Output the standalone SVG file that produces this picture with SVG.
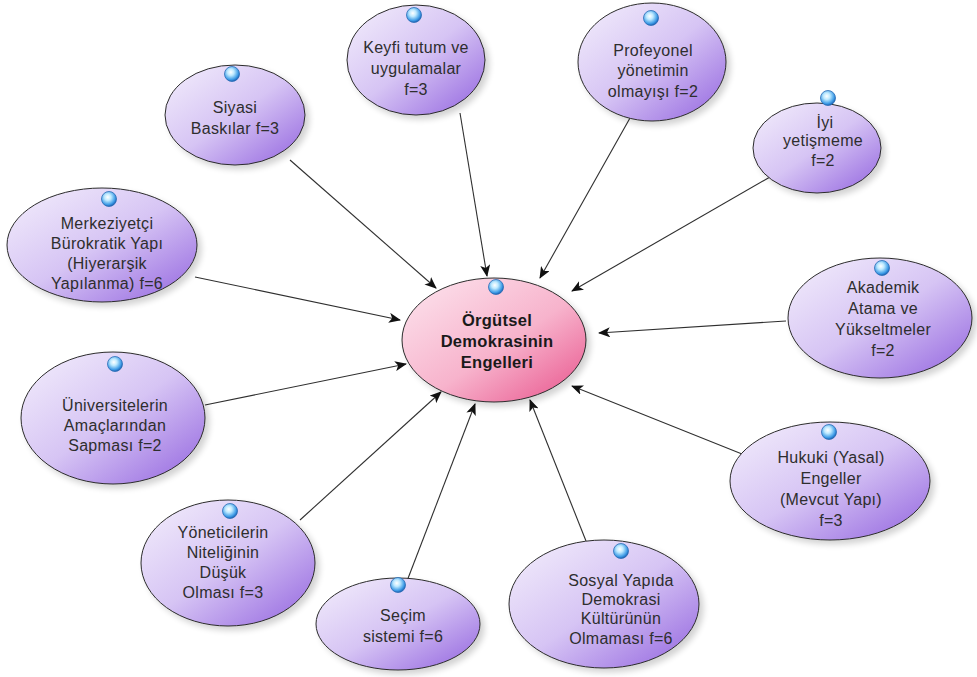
<svg xmlns="http://www.w3.org/2000/svg" width="977" height="677" viewBox="0 0 977 677">
  <defs>
    <linearGradient id="gOuter" x1="0" y1="0" x2="1" y2="1">
      <stop offset="0" stop-color="#f4effc"/>
      <stop offset="0.5" stop-color="#d6c4f4"/>
      <stop offset="1" stop-color="#9263df"/>
    </linearGradient>
    <linearGradient id="gCenter" x1="0" y1="0" x2="1" y2="1">
      <stop offset="0" stop-color="#fde6ef"/>
      <stop offset="0.55" stop-color="#f7b3cc"/>
      <stop offset="1" stop-color="#e8508a"/>
    </linearGradient>
    <radialGradient id="gBall" cx="0.42" cy="0.38" r="0.62">
      <stop offset="0" stop-color="#ffffff"/>
      <stop offset="0.35" stop-color="#bfeaff"/>
      <stop offset="0.8" stop-color="#3d9be6"/>
      <stop offset="1" stop-color="#1f63b3"/>
    </radialGradient>
    <filter id="shadow" x="-20%" y="-20%" width="150%" height="150%">
      <feGaussianBlur in="SourceAlpha" stdDeviation="3"/>
      <feOffset dx="4" dy="4" result="b"/>
      <feComponentTransfer><feFuncA type="linear" slope="0.18"/></feComponentTransfer>
      <feMerge><feMergeNode/><feMergeNode in="SourceGraphic"/></feMerge>
    </filter>
    <marker id="arrow" viewBox="0 0 12 10" refX="11" refY="5" markerWidth="12" markerHeight="10" markerUnits="userSpaceOnUse" orient="auto">
      <path d="M0,0 L12,5 L0,10 L3,5 Z" fill="#111"/>
    </marker>
  </defs>
  <style>
    .node ellipse { stroke: #2b2b2b; stroke-width: 1; filter: url(#shadow); }
    .outer ellipse { fill: url(#gOuter); }
    .center ellipse { fill: url(#gCenter); }
    .ball { fill: url(#gBall); stroke: #2a6cb5; stroke-width: 0.8; }
    text { font-family: "Liberation Sans", Arial, sans-serif; font-size: 16px; letter-spacing: 0.3px; fill: #2e2e2e; text-anchor: middle; }
    .center text { font-weight: bold; font-size: 16.5px; fill: #1a1a1a; }
    .links line { stroke: #2f2f2f; stroke-width: 1.1; marker-end: url(#arrow); }
  </style>

  <rect width="977" height="677" fill="#ffffff"/>

  <!-- connectors: every cause points at the central node -->
  <g class="links">
    <line x1="290" y1="160" x2="436" y2="288"/>
    <line x1="460" y1="113" x2="487" y2="276"/>
    <line x1="630" y1="118" x2="540" y2="278"/>
    <line x1="770" y1="177" x2="572" y2="291"/>
    <line x1="786" y1="321" x2="599" y2="333"/>
    <line x1="742" y1="454" x2="572" y2="386"/>
    <line x1="586" y1="541" x2="530" y2="400"/>
    <line x1="407" y1="581" x2="475" y2="404"/>
    <line x1="300" y1="520" x2="441" y2="392"/>
    <line x1="205" y1="405" x2="406" y2="364"/>
    <line x1="195" y1="277" x2="400" y2="320"/>
  </g>

  <g id="node-center" class="node center">
    <ellipse cx="494" cy="340" rx="92" ry="62"/>
    <circle class="ball" cx="496" cy="287" r="7.5"/>
    <text x="497" y="326">Örgütsel</text>
    <text x="497" y="347">Demokrasinin</text>
    <text x="497" y="368">Engelleri</text>
  </g>

  <g id="node-siyasi" class="node outer">
    <ellipse cx="235" cy="115" rx="70" ry="50"/>
    <circle class="ball" cx="232" cy="74" r="7.5"/>
    <text x="235" y="113">Siyasi</text>
    <text x="235" y="134">Baskılar f=3</text>
  </g>

  <g id="node-keyfi" class="node outer">
    <ellipse cx="416" cy="60" rx="69" ry="55"/>
    <circle class="ball" cx="414" cy="15" r="7.5"/>
    <text x="416" y="53">Keyfi tutum ve</text>
    <text x="416" y="74">uygulamalar</text>
    <text x="416" y="95">f=3</text>
  </g>

  <g id="node-profeyonel" class="node outer">
    <ellipse cx="652" cy="62" rx="74" ry="59"/>
    <circle class="ball" cx="651" cy="18" r="7.5"/>
    <text x="653" y="56">Profeyonel</text>
    <text x="653" y="76">yönetimin</text>
    <text x="653" y="97">olmayışı f=2</text>
  </g>

  <g id="node-iyi" class="node outer">
    <ellipse cx="817" cy="148" rx="64" ry="45"/>
    <circle class="ball" cx="828" cy="98" r="7.5"/>
    <text x="825" y="128">İyi</text>
    <text x="823" y="146">yetişmeme</text>
    <text x="823" y="166">f=2</text>
  </g>

  <g id="node-akademik" class="node outer">
    <ellipse cx="880" cy="318" rx="92" ry="60"/>
    <circle class="ball" cx="882" cy="268" r="7.5"/>
    <text x="883" y="293">Akademik</text>
    <text x="883" y="314">Atama ve</text>
    <text x="883" y="335">Yükseltmeler</text>
    <text x="883" y="356">f=2</text>
  </g>

  <g id="node-hukuki" class="node outer">
    <ellipse cx="830" cy="481" rx="100" ry="59"/>
    <circle class="ball" cx="829" cy="432" r="7.5"/>
    <text x="831" y="463">Hukuki (Yasal)</text>
    <text x="831" y="484">Engeller</text>
    <text x="831" y="505">(Mevcut Yapı)</text>
    <text x="831" y="526">f=3</text>
  </g>

  <g id="node-sosyal" class="node outer">
    <ellipse cx="604" cy="604" rx="95" ry="64"/>
    <circle class="ball" cx="621" cy="551" r="7.5"/>
    <text x="621" y="586">Sosyal Yapıda</text>
    <text x="621" y="605">Demokrasi</text>
    <text x="621" y="624">Kültürünün</text>
    <text x="621" y="644">Olmaması f=6</text>
  </g>

  <g id="node-secim" class="node outer">
    <ellipse cx="398" cy="624" rx="82" ry="46"/>
    <circle class="ball" cx="398" cy="585" r="7.5"/>
    <text x="403" y="621">Seçim</text>
    <text x="403" y="642">sistemi f=6</text>
  </g>

  <g id="node-yoneticilerin" class="node outer">
    <ellipse cx="228" cy="563" rx="87" ry="63"/>
    <circle class="ball" cx="230" cy="511" r="7.5"/>
    <text x="223" y="538">Yöneticilerin</text>
    <text x="223" y="558">Niteliğinin</text>
    <text x="223" y="578">Düşük</text>
    <text x="223" y="598">Olması f=3</text>
  </g>

  <g id="node-universite" class="node outer">
    <ellipse cx="113" cy="418" rx="92" ry="66"/>
    <circle class="ball" cx="115" cy="364" r="7.5"/>
    <text x="115" y="411">Üniversitelerin</text>
    <text x="115" y="431">Amaçlarından</text>
    <text x="115" y="451">Sapması f=2</text>
  </g>

  <g id="node-merkeziyetci" class="node outer">
    <ellipse cx="102" cy="245" rx="95" ry="57"/>
    <circle class="ball" cx="109" cy="199" r="7.5"/>
    <text x="107" y="229">Merkeziyetçi</text>
    <text x="107" y="249">Bürokratik Yapı</text>
    <text x="107" y="269">(Hiyerarşik</text>
    <text x="107" y="289">Yapılanma) f=6</text>
  </g>
</svg>
